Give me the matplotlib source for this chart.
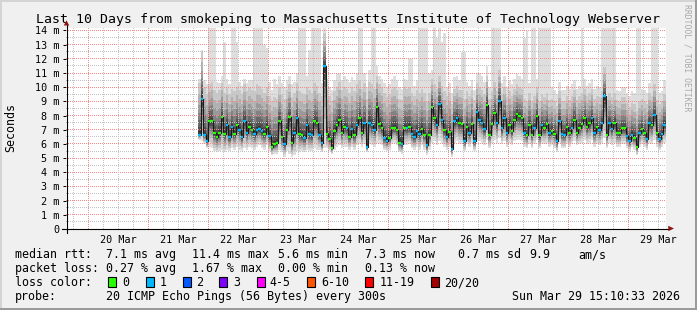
import numpy as np
import matplotlib
matplotlib.use("Agg")
import matplotlib.pyplot as plt
import matplotlib.dates as mdates
from matplotlib.patches import Rectangle, Polygon
from matplotlib.lines import Line2D
from datetime import datetime, timedelta

W, H, DPI = 697, 310, 100

# ---------------- data ----------------
graph_start = datetime(2026, 3, 19, 15, 10, 33)
graph_end = datetime(2026, 3, 29, 15, 10, 33)
first_sample = datetime(2026, 3, 21, 20, 0, 0)   # one consolidated value per hour

median_ms = [
    6.64, 9.2, 6.64, 6.2, 7.6, 7.6, 6.75, 6.5, 6.75, 7.9, 6.7, 7.35, 6.5, 7.2, 6.7, 7.35, 7.0, 6.5,
    7.6, 6.8, 7.2, 7.0, 6.7, 7.0, 7.06, 6.9, 6.7, 7.2, 6.55, 5.8, 6.0, 6.1, 7.6, 6.5, 6.0, 7.0,
    7.9, 6.1, 6.75, 7.8, 6.7, 6.6, 6.45, 7.35, 6.7, 6.6, 7.6, 7.5, 6.65, 6.05, 11.5, 6.7, 6.35, 5.7,
    6.9, 7.3, 7.7, 6.8, 7.2, 7.1, 6.5, 7.06, 6.6, 7.3, 7.8, 6.8, 7.45, 5.8, 7.5, 7.3, 7.0, 8.6, 7.4, 7.1,
    6.4, 6.2, 6.45, 7.1, 7.15, 7.0, 6.1, 6.0, 7.15, 7.1, 7.2, 6.7, 6.5, 6.9, 6.7, 7.06, 6.65, 5.95, 6.65,
    8.6, 7.8, 7.3, 8.8, 7.7, 6.95, 6.5, 6.85, 5.65, 7.6, 7.8, 7.45, 7.4, 6.2, 7.2, 6.75, 7.4, 6.2, 8.25,
    7.7, 7.5, 7.06, 8.75, 6.65, 7.4, 8.2, 7.45, 9.05, 7.1, 7.8, 6.8, 7.35, 6.9, 7.7, 8.1, 7.95, 7.8, 6.8,
    6.6, 7.35, 6.65, 7.15, 8.0, 6.6, 7.3, 7.1, 7.4, 6.75, 6.9, 6.7, 6.2, 7.6, 6.7, 6.65, 7.2, 6.8, 7.1,
    7.7, 6.75, 7.15, 7.4, 7.8, 7.2, 7.45, 7.8, 6.8, 7.2, 7.0, 7.45, 9.35, 6.65, 7.45, 7.06, 7.45, 6.8,
    6.75, 7.1, 7.1, 6.55, 6.2, 6.65, 6.45, 5.8, 6.75, 7.06, 6.75, 6.35, 7.45, 7.3, 8.05, 6.8, 6.35, 6.7, 7.35,
]
loss_pings = [
    1, 1, 1, 1, 0, 0, 0, 0, 0, 0, 0, 1, 1, 1, 0, 0, 1, 1, 1, 1, 0, 0, 1, 1, 1, 1, 0, 0, 1, 0, 0, 0, 0, 0, 1, 0,
    0, 0, 1, 1, 0, 0, 1, 1, 1, 1, 0, 0, 1, 1, 1, 0, 0, 0, 0, 0, 0, 0, 0, 1, 0, 1, 0, 1, 0, 0, 1, 1, 1, 1, 1, 0, 0, 0,
    1, 1, 0, 0, 0, 0, 0, 1, 0, 1, 0, 1, 1, 1, 1, 0, 0, 1, 0, 0, 0, 1, 1, 1, 0, 1, 0, 1, 1, 1, 0, 0, 1, 0, 1, 0, 1, 1,
    1, 1, 1, 0, 0, 0, 0, 1, 1, 1, 1, 1, 0, 0, 0, 0, 0, 0, 1, 0, 0, 0, 1, 0, 0, 1, 0, 0, 1, 0, 0, 1, 1, 1, 1, 0, 0, 1,
    0, 0, 0, 0, 0, 0, 0, 1, 1, 0, 1, 1, 1, 0, 1, 1, 0, 0, 0, 0, 0, 1, 1, 1, 0, 0, 1, 0, 0, 1, 1, 0, 1, 0, 1, 1, 1,
]
smoke_min_ms = [
    6.3, 6.2, 6.0, 5.7, 5.8, 5.7, 5.5, 5.4, 5.5, 5.6, 5.4, 5.6, 5.5, 5.7, 5.6, 5.8, 5.6, 5.5,
    5.7, 5.6, 5.8, 5.7, 5.6, 5.8, 5.9, 5.7, 5.6, 5.9, 5.5, 5.2, 5.3, 5.3, 5.6, 5.4, 5.1, 5.5,
    5.3, 5.1, 5.2, 5.5, 5.4, 5.5, 5.4, 5.6, 5.5, 5.5, 5.7, 5.6, 5.6, 5.4, 5.7, 5.7, 5.5, 5.3, 5.6,
    5.8, 5.9, 5.7, 5.8, 5.8, 5.6, 5.8, 5.6, 5.9, 6.0, 5.8, 6.0, 5.4, 6.0, 5.9, 5.8, 6.1, 6.0, 5.9,
    5.6, 5.5, 5.6, 6.0, 6.1, 5.9, 5.4, 5.3, 5.9, 5.9, 6.0, 5.7, 5.6, 5.8, 5.6, 5.9, 5.6, 5.2, 5.6,
    6.1, 6.2, 5.9, 6.2, 6.1, 5.8, 5.6, 5.8, 5.1, 6.1, 6.2, 6.0, 6.0, 5.5, 6.0, 5.8, 6.1, 5.5, 6.3,
    6.2, 6.1, 5.9, 6.3, 5.7, 6.1, 6.3, 6.1, 6.4, 6.0, 6.2, 5.8, 6.1, 5.9, 6.2, 6.3, 6.3, 6.2, 5.8,
    5.7, 6.0, 5.7, 6.0, 6.3, 5.7, 6.0, 6.0, 6.1, 5.8, 5.9, 5.7, 5.4, 6.1, 5.7, 5.7, 6.0, 5.8, 6.0,
    6.2, 5.9, 6.0, 6.1, 6.3, 6.0, 6.1, 6.3, 5.8, 6.0, 5.9, 6.1, 6.4, 5.7, 6.1, 5.9, 6.1, 5.8,
    5.8, 6.0, 6.0, 5.7, 5.5, 5.8, 5.6, 5.2, 5.8, 6.0, 5.8, 5.6, 6.1, 6.0, 6.3, 5.8, 5.6, 5.8, 6.1,
]
smoke_hi_ms = [
    10.3, 12.5, 10.0, 9.5, 10.2, 10.4, 9.8, 9.6, 9.8, 10.3, 9.6, 10.0, 9.5, 9.9, 9.7, 10.0, 9.8, 9.5,
    10.2, 9.7, 10.0, 9.8, 9.7, 10.2, 10.1, 9.9, 9.6, 10.0, 9.4, 9.0, 9.3, 9.2, 10.0, 9.5, 9.2, 9.8,
    10.2, 9.3, 9.6, 10.3, 9.7, 9.6, 9.5, 10.0, 9.8, 9.6, 10.3, 10.1, 9.6, 9.4, 13.8, 9.8, 9.4, 9.0, 9.7,
    10.0, 10.4, 9.8, 10.0, 9.9, 9.6, 10.0, 9.7, 10.2, 10.5, 9.9, 10.3, 9.2, 10.4, 10.2, 9.9, 10.8, 10.2, 10.0,
    9.6, 9.3, 9.5, 9.9, 10.0, 9.8, 9.2, 9.1, 10.0, 9.9, 10.0, 9.6, 9.4, 9.8, 9.6, 9.9, 9.6, 9.0, 9.6,
    10.6, 10.2, 9.9, 10.8, 10.1, 9.7, 9.4, 9.6, 8.8, 9.9, 10.1, 9.8, 9.8, 9.2, 9.7, 9.4, 9.8, 9.1, 10.3,
    10.0, 9.8, 9.5, 10.8, 9.2, 9.7, 10.4, 9.7, 11.2, 9.5, 10.0, 9.3, 9.7, 9.4, 9.9, 10.2, 10.0, 9.9, 9.2,
    9.0, 9.6, 9.0, 9.4, 10.0, 9.0, 9.5, 9.3, 9.6, 9.1, 9.2, 9.0, 8.7, 9.7, 9.0, 9.0, 9.4, 9.1, 9.4,
    9.8, 9.1, 9.4, 9.6, 9.9, 9.4, 9.6, 9.9, 9.2, 9.4, 9.3, 9.7, 11.4, 9.1, 9.6, 9.3, 9.6, 9.1,
    9.0, 9.3, 9.3, 8.9, 8.6, 8.9, 8.8, 8.3, 9.0, 9.2, 9.0, 8.8, 9.6, 9.4, 10.2, 9.1, 8.8, 9.0, 9.5,
]
smoke_max_ms = [
    10.6, 12.6, 10.5, 10.2, 14.5, 14.5, 14.5, 10.4, 10.3, 10.8, 13.2, 10.6, 10.2, 14.5, 14.5, 13.2, 10.4, 10.1,
    10.6, 10.3, 10.5, 10.5, 14.5, 14.5, 14.5, 14.5, 13.0, 12.8, 10.4, 9.8, 10.6, 10.2, 10.8, 10.3, 10.0, 10.5,
    10.8, 10.2, 10.4, 11.0, 14.5, 14.5, 14.5, 10.8, 12.6, 14.5, 14.5, 14.5, 14.5, 10.3, 14.5, 10.6, 10.0, 9.8, 10.5,
    10.9, 11.0, 10.5, 10.8, 10.6, 10.4, 10.7, 10.5, 11.0, 14.5, 14.5, 11.0, 10.0, 11.2, 14.5, 14.5, 11.5, 10.8, 10.6,
    10.3, 10.0, 10.2, 10.6, 10.8, 10.5, 10.0, 9.9, 10.6, 10.5, 12.0, 12.0, 10.1, 10.5, 14.5, 14.5, 14.5, 14.5, 11.0,
    11.2, 14.5, 13.5, 14.5, 13.2, 13.8, 10.0, 10.3, 9.6, 10.7, 10.8, 10.5, 12.5, 12.5, 10.4, 10.1, 10.5, 9.8, 11.0,
    11.0, 10.8, 10.4, 11.5, 10.0, 14.5, 14.5, 14.5, 14.5, 10.3, 10.8, 10.0, 10.5, 10.2, 10.6, 10.9, 10.8, 10.6, 13.5,
    14.0, 10.3, 14.5, 14.5, 10.6, 14.5, 14.5, 14.5, 14.5, 14.5, 10.0, 9.8, 9.5, 10.4, 9.8, 9.8, 10.1, 9.9, 10.2,
    10.5, 9.9, 10.1, 14.5, 10.6, 10.1, 10.3, 10.6, 9.9, 10.1, 10.0, 14.5, 14.5, 14.5, 14.5, 14.5, 14.5, 9.8,
    9.7, 10.0, 10.0, 9.6, 9.4, 9.7, 9.6, 14.5, 14.5, 9.9, 9.8, 9.6, 10.3, 14.5, 14.5, 14.5, 9.6, 9.7, 10.5,
]

y_ticks = [0, 1, 2, 3, 4, 5, 6, 7, 8, 9, 10, 11, 12, 13, 14]
y_tick_labels = ["0", "1 m", "2 m", "3 m", "4 m", "5 m", "6 m", "7 m", "8 m", "9 m",
                 "10 m", "11 m", "12 m", "13 m", "14 m"]
day_labels = ["20 Mar", "21 Mar", "22 Mar", "23 Mar", "24 Mar", "25 Mar",
              "26 Mar", "27 Mar", "28 Mar", "29 Mar"]

loss_names = ["0", "1", "2", "3", "4-5", "6-10", "11-19", "20/20"]
loss_colors = ["#26ff00", "#00b8ff", "#0059ff", "#7e00ff", "#ff00ff", "#ff5500", "#ff0000", "#a10000"]

title = "Last 10 Days from smokeping to Massachusetts Institute of Technology Webserver"
rtt_row = [("median rtt:", 16), ("7.1 ms avg", 107.3), ("11.4 ms max", 192.7), ("5.6 ms min", 279.0),
           ("7.3 ms now", 366.0), ("0.7 ms sd", 458.3), ("9.9", 530.0), ("am/s", 579.3)]
loss_row = [("packet loss:", 16), ("0.27 % avg", 107.3), ("1.67 % max", 192.7),
            ("0.00 % min", 278.3), ("0.13 % now", 366.0)]
probe_row = [("probe:", 16), ("20 ICMP Echo Pings (56 Bytes) every 300s", 107.3),
             ("Sun Mar 29 15:10:33 2026", 513.3)]

# ---------------- layout helpers ----------------
def fx(x):
    return x / W


def fy(y):
    return 1 - y / H


MONO = "DejaVu Sans Mono"
fig = plt.figure(figsize=(W / DPI, H / DPI), dpi=DPI, facecolor="#f0f0f0")

for (x0, y0, w, h, c) in [(0, 0, W, 2, "#d4d4d4"), (0, 0, 2, H, "#d4d4d4"),
                          (0, H - 2, W, 2, "#9a9a9a"), (W - 2, 0, 2, H, "#9a9a9a")]:
    fig.patches.append(Rectangle((fx(x0), fy(y0 + h)), w / W, h / H, transform=fig.transFigure,
                                 facecolor=c, edgecolor="none", zorder=0))

# plot area on whole pixels so the dotted grid lands on a clean 1-on/1-off pattern
PL, PR, PT, PB = 66.0, 666.0, 28.0, 229.0
YTOP = (PB - PT) / ((PB - 30.5) / 14.0)
ax = fig.add_axes([fx(PL), fy(PB), (PR - PL) / W, (PB - PT) / H])
ax.set_facecolor("white")
ax.set_xlim(mdates.date2num(graph_start), mdates.date2num(graph_end))
ax.set_ylim(0, YTOP)
for s in ax.spines.values():
    s.set_visible(False)

# ---------------- smoke ----------------
med = np.array(median_ms)
lo = np.array(smoke_min_ms)
hi = np.array(smoke_hi_ms)
top = np.array(smoke_max_ms)
n = len(med)
t0 = mdates.date2num(first_sample)
edges = t0 + np.arange(n + 1) / 24.0


def ext(a):
    return np.r_[a, a[-1]]


band_colors = ["#dedede", "#c8c8c8", "#b1b1b1", "#999999", "#818181", "#686868", "#4f4f4f", "#373737"]
up_frac = [None, None, 0.78, 0.58, 0.42, 0.28, 0.16, 0.07]
dn_frac = [None, 0.82, 0.64, 0.5, 0.38, 0.27, 0.17, 0.08]
for k, c in enumerate(band_colors):
    if k == 0:
        u, l = top, lo
    elif k == 1:
        u, l = hi, med - dn_frac[k] * (med - lo)
    else:
        u, l = med + up_frac[k] * (hi - med), med - dn_frac[k] * (med - lo)
    ax.fill_between(edges, ext(l), ext(u), step="post", color=c, lw=0, zorder=2)

# ---------------- grid (pixel-centred, unsnapped 1px dots) ----------------
gs = dict(lw=0.72, ls=(0, (1, 1)), zorder=3, antialiased=True, snap=False)
minor_c, major_c = "#c2c2c2", "#f58888"
inv = ax.transData.inverted()
x_ref = ax.get_xlim()[0]


def snap_y(v):
    _, py = ax.transData.transform((x_ref, v))
    return inv.transform((0, np.floor(py) + 0.5))[1]


def snap_x(v):
    px, _ = ax.transData.transform((v, 0))
    return inv.transform((np.floor(px) + 0.5, 0))[0]


for v in np.arange(0.5, 14.0, 1.0):
    ax.axhline(snap_y(v), color=minor_c, **gs)
for v in range(1, 15):
    ax.axhline(snap_y(v), color=major_c, **gs)
t = datetime(2026, 3, 19, 18, 0)
while t < graph_end:
    ax.axvline(snap_x(mdates.date2num(t)), color=(major_c if t.hour == 0 else minor_c), **gs)
    t += timedelta(hours=6)

# ---------------- median ----------------
ax.step(edges, ext(med), where="post", color="#1a1a1a", lw=0.8, zorder=4)
ax.hlines(med, edges[:-1], edges[1:], colors=[loss_colors[v] for v in loss_pings],
          lw=1.7, zorder=5)

# ---------------- ticks ----------------
ax.set_yticks(y_ticks)
ax.set_yticklabels(y_tick_labels, fontsize=7.3, family=MONO)
ax.tick_params(axis="y", direction="out", length=2, width=0.72, pad=2.6, color="black")
noons = [mdates.date2num(datetime(2026, 3, 20 + i, 12, 0)) for i in range(len(day_labels))]
ax.set_xticks(noons)
ax.set_xticklabels(day_labels, fontsize=7.3, family=MONO)
ax.tick_params(axis="x", length=0, pad=4.2)

# ---------------- axes lines & arrows ----------------
arrow_c = "#8c1515"
fig.lines.append(Line2D([fx(66.5), fx(66.5)], [fy(232.5), fy(24)], transform=fig.transFigure,
                        color="black", lw=0.8, zorder=6))
fig.lines.append(Line2D([fx(62), fx(669)], [fy(228.5), fy(228.5)], transform=fig.transFigure,
                        color="black", lw=0.8, zorder=6))
fig.patches.append(Polygon([(fx(63.8), fy(25.5)), (fx(69.2), fy(25.5)), (fx(66.5), fy(20.3))],
                           closed=True, transform=fig.transFigure, facecolor=arrow_c,
                           edgecolor="none", zorder=7))
fig.patches.append(Polygon([(fx(668.3), fy(225.8)), (fx(668.3), fy(231.2)), (fx(674), fy(228.5))],
                           closed=True, transform=fig.transFigure, facecolor=arrow_c,
                           edgecolor="none", zorder=7))

# ---------------- texts ----------------
fig.text(fx(348), fy(23.3), title, fontsize=9.55, family=MONO, ha="center", va="baseline")
fig.text(fx(11), fy(127), "Seconds", fontsize=8.4, family=MONO, rotation=90,
         ha="center", va="center")
fig.text(fx(687.5), fy(4.5), "RRDTOOL / TOBI OETIKER", fontsize=5.9, family=MONO,
         rotation=270, ha="center", va="top", color="#a9a9a9")

LF = 8.4
for row, base in [(rtt_row, 258.3), (loss_row, 272.3), (probe_row, 300.2)]:
    for txt, x in row:
        fig.text(fx(x - 0.8), fy(base), txt, fontsize=LF, family=MONO, va="baseline")

fig.text(fx(16 - 0.8), fy(286.2), "loss color:", fontsize=LF, family=MONO, va="baseline")
box_x = [108.3, 145.7, 182.7, 219.3, 256.7, 307.3, 365.0, 430.7]
lab_x = [123.3, 160.7, 197.3, 234.0, 270.7, 321.7, 380.7, 445.0]
for name, col, bx, lx in zip(loss_names, loss_colors, box_x, lab_x):
    fig.patches.append(Rectangle((fx(bx), fy(286.7)), 8 / W, 9.3 / H, transform=fig.transFigure,
                                 facecolor=col, edgecolor="black", lw=0.8, zorder=5))
    fig.text(fx(lx - 0.8), fy(286.2), name, fontsize=LF, family=MONO, va="baseline")

fig.savefig("out.png", dpi=DPI, facecolor=fig.get_facecolor())
